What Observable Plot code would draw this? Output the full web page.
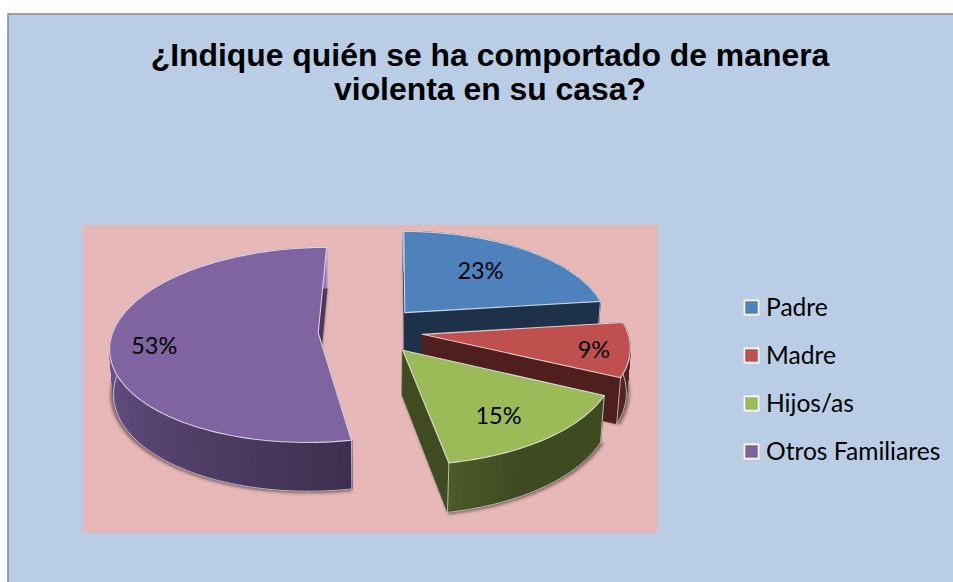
<!DOCTYPE html>
<html>
<head>
<meta charset="utf-8">
<script src="https://cdn.jsdelivr.net/npm/d3@7"></script>
<script src="https://cdn.jsdelivr.net/npm/@observablehq/plot@0.6"></script>
<style>
html,body{margin:0;padding:0;background:#fff;}
svg{display:block;}
</style>
</head>
<body>
<div id="chart"></div>
<script>
const categories = ["Padre", "Madre", "Hijos/as", "Otros Familiares"];
const percentages = [23, 9, 15, 53];
const topColors = ["#4F81BD", "#C0504D", "#9BBB59", "#8064A2"];
const rimColorStops = [["#1D3149", "#1D3149"], ["#4A1E1C", "#552523"], ["#3E4A20", "#4D5C2A"], ["#6E5893", "#3F2F4F"]];
const wallColors = ["#1D3149", "#4E1F1D", "#3F4B20", "#4A3860"];
const labelRadius = [0.62, 0.83, 0.74, 0.79];
const labelTurn = [-1, 2.5, 3.5, -5];
const title = "¿Indique quién se ha comportado de manera\nviolenta en su casa?";

// layout of the projected pie
const W = 953, H = 582;
const cx = 370, cy = 330, a = 205, b = 95.5, k = 0.1236, shear = 3, depth = 45, baseShrink = 0.015, explode = 0.255;
const drawOrder = [3, 0, 1, 2];

const arcs = d3.pie().sort(null)(percentages);
function project(X, Z, h) {
  const f = 1 / (1 + k * Z + baseShrink * h);
  return {x: cx + (a * X + shear * Z) * f, y: cy + (-b * Z + depth * h) * f};
}
function slicePoint(s, r, theta, h) {
  const mid = (s.startAngle + s.endAngle) / 2;
  return project(explode * Math.sin(mid) + r * Math.sin(theta), explode * Math.cos(mid) + r * Math.cos(theta), h);
}
function arcAngles(s) {
  const n = Math.max(4, Math.ceil((s.endAngle - s.startAngle) / 0.03));
  return d3.range(n + 1).map(i => s.startAngle + (s.endAngle - s.startAngle) * i / n);
}
function rimShade(i, s, t) {
  if (i === 3) return Math.min(1, 1 - (t - s.startAngle) / (Math.PI * 0.62));
  if (i === 2) return Math.max(0, 1 - (s.endAngle - t) / 0.35);
  return (t - s.startAngle) / (s.endAngle - s.startAngle);
}
function sliceMarks(i) {
  const s = arcs[i];
  const angles = arcAngles(s);
  const topPoly = [slicePoint(s, 0, 0, 0), ...angles.map(t => slicePoint(s, 1, t, 0))];
  const shadow = [slicePoint(s, 0, 0, 1), ...angles.map(t => slicePoint(s, 1.016, t, 1))];
  const color = d3.interpolateRgb(rimColorStops[i][0], rimColorStops[i][1]);
  const rim = [];
  d3.pairs(angles).forEach(([t0, t1], j) => {
    const c = color(rimShade(i, s, t0));
    [slicePoint(s, 1, t0, 0), slicePoint(s, 1, t1, 0), slicePoint(s, 1, t1, 1), slicePoint(s, 1, t0, 1)]
      .forEach(p => rim.push({...p, id: j, fill: c}));
  });
  const radial = [s.endAngle, s.startAngle].flatMap((t, j) =>
    [slicePoint(s, 0, 0, 0), slicePoint(s, 1, t, 0), slicePoint(s, 1, t, 1), slicePoint(s, 0, 0, 1)]
      .map(p => ({...p, id: j})));
  const baseEdge = angles.filter(t => Math.cos(t) < 0.1).map(t => slicePoint(s, 1, t, 1));
  const edges = [s.startAngle, s.endAngle].flatMap((t, j) =>
    [slicePoint(s, 1, t, 0), slicePoint(s, 1, t, 1)].map(p => ({...p, id: j})));
  return [
    Plot.line(shadow, {x: "x", y: "y", curve: "linear-closed", fill: "#50302F", fillOpacity: 0.6, stroke: "none", imageFilter: "blur(1.6px)"}),
    Plot.line(radial.filter(d => d.id === 1), {x: "x", y: "y", curve: "linear-closed", fill: wallColors[i], stroke: wallColors[i], strokeWidth: 0.5}),
    Plot.line(radial.filter(d => d.id === 0), {x: "x", y: "y", curve: "linear-closed", fill: wallColors[i], stroke: wallColors[i], strokeWidth: 0.5}),
    Plot.line(rim, {x: "x", y: "y", z: "id", curve: "linear-closed", fill: "fill", stroke: "fill", strokeWidth: 1}),
    Plot.line(baseEdge, {x: "x", y: "y", stroke: "#D9D4D8", strokeWidth: 1, strokeOpacity: 0.8}),
    Plot.line(edges, {x: "x", y: "y", z: "id", stroke: "#DDD9DC", strokeWidth: 0.9, strokeOpacity: 0.85}),
    Plot.line(topPoly, {x: "x", y: "y", curve: "linear-closed", fill: topColors[i], stroke: "#E9E7EC", strokeWidth: 1.1, strokeOpacity: 0.85})
  ];
}
const labels = arcs.map((s, i) => ({
  ...slicePoint(s, labelRadius[i], (s.startAngle + s.endAngle) / 2 + labelTurn[i] * Math.PI / 180, 0),
  text: percentages[i] + "%"
}));
const legend = categories.map((name, i) => ({name, color: topColors[i], x: 751, tx: 765.5, y: 307 + 48 * i, ty: 308 + 48 * i}));

const chart = Plot.plot({
  width: W, height: H, margin: 0,
  x: {type: "linear", domain: [0, W], range: [0, W], axis: null},
  y: {type: "linear", domain: [0, H], range: [0, H], axis: null},
  color: {type: "identity"},
  style: {background: "#fff"},
  marks: [
    Plot.rect([0], {x1: 8, y1: 14, x2: W + 4, y2: H + 4, fill: "#B9CDE5", stroke: "#8A8A8A", strokeWidth: 1.5}),
    Plot.rect([0], {x1: 83, y1: 225, x2: 658, y2: 533, fill: "#E6B9B8"}),
    ...drawOrder.flatMap(sliceMarks),
    Plot.text(labels, {x: "x", y: "y", text: "text", fontFamily: "Lato", fontSize: 23.5, fill: "#000"}),
    Plot.dot(legend, {x: "x", y: "y", symbol: "square", r: 8, fill: "color", stroke: "#fff", strokeWidth: 1.6}),
    Plot.text(legend, {x: "tx", y: "ty", text: "name", textAnchor: "start", fontFamily: "Lato", fontSize: 24.6, fill: "#000"}),
    Plot.text([title], {x: 489.5, y: 72, text: d => d, fontFamily: "Liberation Sans", fontWeight: "bold", fontSize: 31.9, lineHeight: 1.066, fill: "#000"})
  ]
});
document.getElementById("chart").append(chart);
</script>
</body>
</html>
